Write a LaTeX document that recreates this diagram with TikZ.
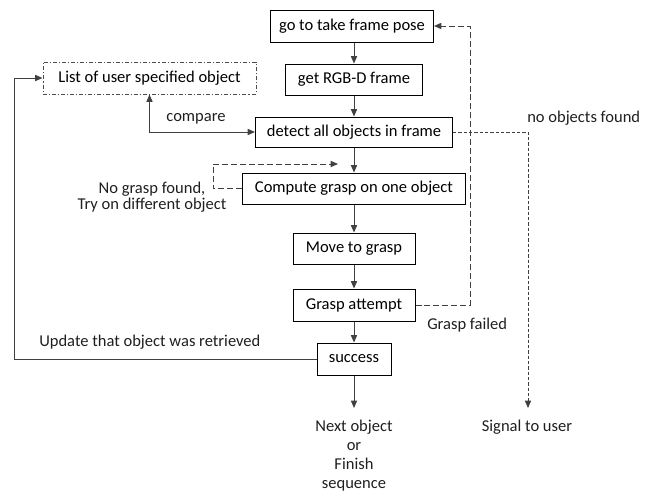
\documentclass[tikz,border=0pt]{standalone}
\usepackage{fontspec}
\setmainfont{Carlito}
\usetikzlibrary{arrows.meta}
\begin{document}
\begin{tikzpicture}[x=0.75pt,y=-0.75pt,
  font=\fontsize{12.4pt}{14.25pt}\selectfont,
  stepbox/.style 2 args={draw=black,line width=0.75pt,inner sep=0pt,
     minimum width={#1*0.75pt},minimum height={#2*0.75pt},align=center},
  lbl/.style={inner sep=0pt,text=black!88},
  conn/.style={draw=black!75,line width=0.75pt},
  arr/.style={conn,-{Triangle[length=5.5pt,width=4.6pt]}},
  longdash/.style={dash pattern=on 4.5pt off 2.2pt},
  shortdash/.style={dash pattern=on 2.4pt off 1.6pt}]
\useasboundingbox (0,0) rectangle (647,493);

% main column
\node[stepbox={163}{32}] (go) at (352,26) {go to take frame pose};
\node[stepbox={137}{31}] (rgb) at (354,79.5) {get RGB-D frame};
\node[stepbox={197}{30}] (detect) at (354,132) {detect all objects in frame};
\node[stepbox={223}{31}] (compute) at (354,188.5) {Compute grasp on one object};
\node[stepbox={122}{31}] (move) at (354,248.5) {Move to grasp};
\node[stepbox={122}{32}] (attempt) at (354,305) {Grasp attempt};
\node[stepbox={74}{32}] (success) at (354,359) {success};
\node[stepbox={213}{32},draw=black!70,dash pattern=on 3pt off 1.5pt on 0.8pt off 1.5pt] (list) at (149.5,78) {List of user specified object};

% texts
\node[lbl] (next) at (354,456) [align=center] {Next object\\or\\Finish\\sequence};
\node[lbl] (signal) at (527,427) {Signal to user};
\node[lbl,anchor=west] (nof) at (527,118) {no objects found};
\node[lbl,anchor=west] (gf) at (427,325) {Grasp failed};
\node[lbl,align=center,font=\fontsize{12.4pt}{9.8pt}\selectfont] (ngf) at (152,197) {No grasp found,\\Try on different object};
\node[lbl] (cmp) at (196,119) {compare};
\node[lbl,anchor=west] (upd) at (39,342) {Update that object was retrieved};

% coordinates
\coordinate (nexttip) at (354,408);
\coordinate (sigcorner) at (528,132);
\coordinate (sigtip) at (528,408);
\coordinate (gfx) at (470,0);
\coordinate (ngcorner) at (213,164);
\coordinate (ngtip) at (338,164);
\coordinate (updcorner) at (14,78);

% main arrows
\draw[arr] (go.south -| rgb.north) -- (rgb.north);
\draw[arr] (rgb) -- (detect);
\draw[arr] (detect) -- (compute);
\draw[arr] (compute) -- (move);
\draw[arr] (move) -- (attempt);
\draw[arr] (attempt) -- (success);
\draw[arr] (success) -- (nexttip);

% compare
\draw[conn,{Triangle[length=5.5pt,width=4.6pt]}-{Triangle[length=5.5pt,width=4.6pt]}] (list.south) |- (detect.west);

% update loop
\draw[arr] (success.west) -| (updcorner) -- (list.west);

% no objects found
\draw[arr,shortdash] (detect.east) -- (sigcorner) -- (sigtip);

% grasp failed
\draw[arr,longdash] (attempt.east) -| (gfx |- go.east) -- (go.east);

% no grasp found
\draw[arr,longdash] (compute.west) -| (ngcorner) -- (ngtip);
\end{tikzpicture}
\end{document}
